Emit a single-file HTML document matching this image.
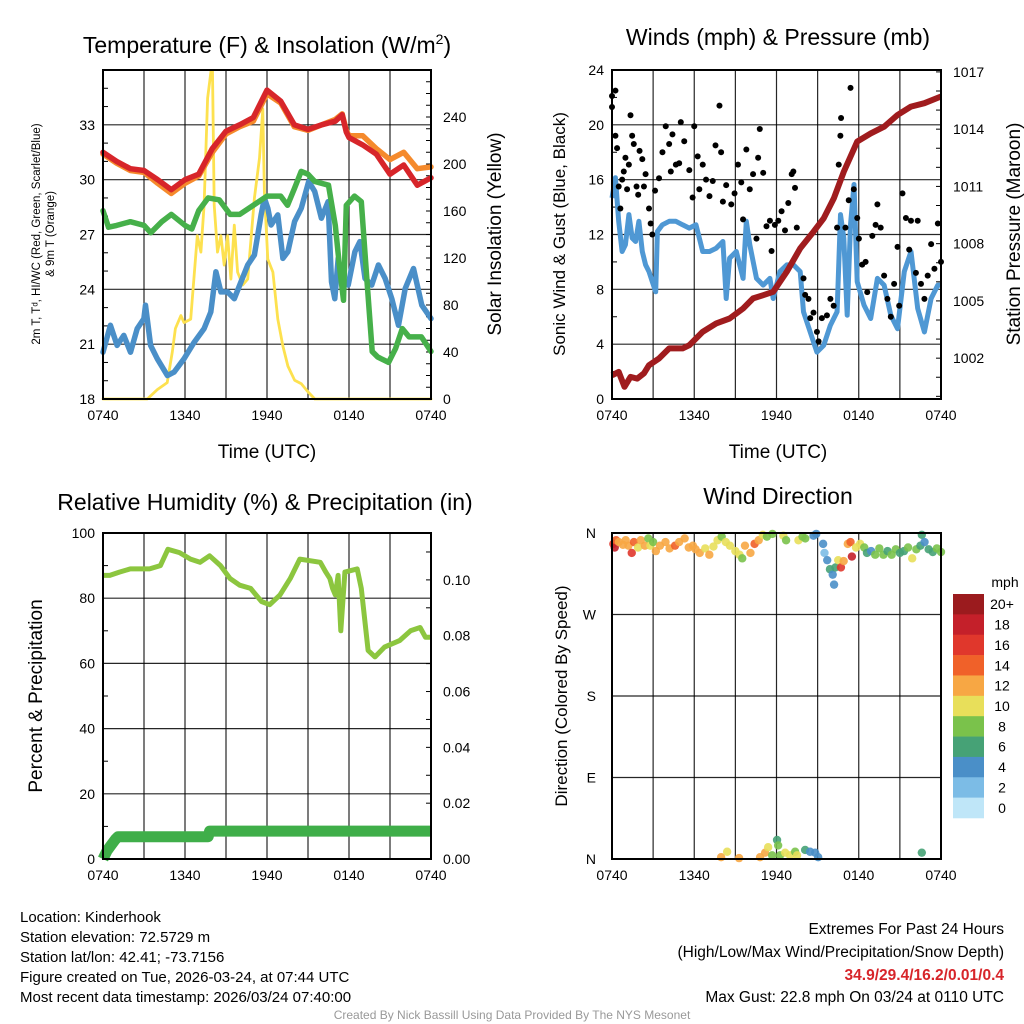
<!DOCTYPE html>
<html><head><meta charset="utf-8">
<style>
html,body{margin:0;padding:0;background:#fff;}
svg{display:block;font-family:"Liberation Sans",Arial,sans-serif;}
</style></head>
<body>
<svg id="fig" width="1024" height="1024" viewBox="0 0 1024 1024" xmlns="http://www.w3.org/2000/svg">
<rect width="1024" height="1024" fill="#fff"/>
</svg>
<script>
// ---- Panel 1 data (hours since 0740 UTC) ----
const tempTimes = [0,1,2,3,4,5,6,7,8,9,10,11,12,13,14,15,16,17,17.5,17.8,18,19,20,21,22,23,24];
const tempRed = [31.5,31.0,30.6,30.5,30.0,29.45,30.0,30.3,31.7,32.65,33.0,33.4,34.9,34.3,33.0,32.75,33.0,33.2,33.55,32.6,32.3,31.9,31.4,30.3,30.8,29.7,30.1];
const tempOrange = [31.4,30.9,30.5,30.4,29.8,29.25,29.8,30.2,31.5,32.5,32.9,33.2,34.7,34.2,32.9,32.7,33.0,33.3,33.6,32.7,32.4,32.4,31.7,31.1,31.5,30.6,30.7];
const hiTimes = [0,0.4,1,2,3,3.5,4.3,5,6,6.5,7,7.7,8.5,9.3,10,11,12,13,13.5,14,14.5,15,15.5,16.5,17,17.3,17.6,17.8,18.4,18.9,19.3,19.7,20.1,20.9,21.4,21.9,22.4,23.3,24];
const hiValues = [28.3,27.4,27.5,27.7,27.5,27.1,27.7,28.1,27.5,27.3,28.3,29.0,28.9,28.1,28.1,28.6,29.1,29.1,28.6,29.5,30.45,30.3,29.9,29.7,27.5,25.3,23.4,28.6,29.1,28.8,24.6,20.6,20.3,20.0,20.75,21.85,21.4,21.4,20.6];
const dewTimes = [0,0.54,1.03,1.52,2.01,2.5,2.99,3.11,3.48,3.97,4.71,5.2,5.93,6.67,7.4,7.89,8.26,8.63,9.12,9.61,10.1,10.59,11.08,11.57,11.81,12.06,12.3,12.79,13.16,13.53,14.02,14.51,15.05,15.49,15.98,16.47,16.72,16.96,17.21,17.45,17.94,18.43,18.8,19.17,19.66,20.15,20.64,21.13,21.62,22.11,22.72,23.33,24];
const dewValues = [20.56,22.03,20.93,21.48,20.56,21.85,22.4,23.13,20.93,20.2,19.28,19.47,20.2,21.11,21.85,22.76,24.96,23.86,23.86,23.49,24.41,25.33,25.88,28.07,28.99,28.44,27.52,28.07,25.69,26.06,27.71,28.44,29.9,29.36,27.89,28.8,24.41,23.49,25.69,24.6,24.23,26.06,26.61,24.6,24.23,25.33,24.6,23.49,22.03,24.04,25.14,23.13,22.4];
const solarTimes = [0,3.24,3.97,4.7,5.07,5.3,5.7,5.93,6.42,6.9,7.16,7.4,7.65,7.9,8.01,8.14,8.38,8.63,8.87,9.12,9.36,9.61,9.85,10.22,10.59,11.08,11.45,11.69,11.81,12.06,12.43,12.79,13.16,13.53,14.02,14.51,15.0,15.5,24];
const solarValues = [0,0,8,14,40,60,71,65,68,139,125,165,256,279,279,165,125,139,114,139,102,148,108,97,102,171,205,247,176,119,108,68,45,28,16,13,6,0,0];
const tempTicks = [18,21,24,27,30,33];
const solarTicks = [0,40,80,120,160,200,240];
const timeLabels = ["0740","1340","1940","0140","0740"];
// ---- Panel 2 data ----
const pressTimes = [0,0.49,0.91,1.35,1.84,2.33,2.7,3.43,4.17,5.15,5.64,6.62,7.6,8.58,9.56,10.29,11.03,11.76,12.75,13.73,14.71,15.44,16.18,16.91,17.89,18.87,19.85,20.83,21.81,22.79,24];
const pressValues = [1001.1,1001.28,1000.5,1001.02,1000.93,1001.2,1001.63,1001.98,1002.51,1002.51,1002.68,1003.38,1003.82,1004.08,1004.6,1005.13,1005.3,1005.48,1006.53,1007.75,1008.63,1009.33,1010.37,1011.77,1013.35,1013.78,1014.13,1014.74,1015.18,1015.36,1015.71];
const windTimes = [0,0.25,0.49,0.74,0.98,1.23,1.47,1.72,1.96,2.21,2.45,2.7,2.94,3.19,3.31,3.68,4.17,4.66,5.15,5.64,6.13,6.62,7.11,7.6,8.09,8.33,8.58,9.07,9.56,9.8,10.05,10.54,11.03,11.52,11.76,12.25,12.75,13.24,13.73,13.97,14.46,14.95,15.44,15.93,16.42,16.67,16.91,17.16,17.4,17.65,17.89,18.38,18.87,19.36,19.85,20.34,20.83,21.32,21.81,22.3,22.79,23.28,23.77,24];
const windValues = [14.67,16.14,12.96,10.76,11.25,13.45,11.74,11.49,12.96,10.76,9.78,9.29,8.56,7.82,12.22,12.71,12.96,12.96,12.71,12.47,12.71,10.76,10.76,11.0,11.49,7.33,10.27,10.76,8.8,12.96,11.25,8.8,8.31,8.8,7.33,9.29,9.78,9.78,9.29,6.36,4.89,3.42,3.91,5.38,6.36,13.45,11.74,6.11,12.71,15.65,8.56,6.85,5.87,8.8,8.31,6.11,5.13,9.29,10.76,6.6,4.89,7.33,8.31,8.31];
const gustTimes = [0,0,0.25,0.25,0.37,0.49,0.61,0.74,0.86,0.98,1.1,1.23,1.35,1.47,1.59,1.79,1.91,2.01,2.21,2.33,2.45,2.7,2.82,2.94,3.14,3.43,3.68,3.92,4.17,4.29,4.41,4.66,4.9,5.02,5.27,5.64,5.88,6.0,6.25,6.37,6.62,6.86,7.11,7.35,7.55,7.84,7.96,8.09,8.33,8.7,8.94,9.19,9.43,9.56,9.8,10.05,10.29,10.54,10.66,10.78,11.03,11.27,11.52,11.64,11.88,12.13,12.37,12.62,12.86,13.11,13.23,13.35,13.48,13.97,14.09,14.33,14.46,14.7,14.95,15.07,15.31,15.68,15.93,16.17,16.42,16.54,16.66,16.71,17.03,17.27,17.4,17.64,17.89,18.01,18.25,18.5,18.62,18.99,19.23,19.36,19.6,19.85,20.09,20.34,20.58,20.83,20.95,21.19,21.44,21.68,21.81,22.17,22.3,22.54,22.79,23.03,23.28,23.52,23.77,24.0];
const gustValues = [21.3,22.1,22.5,19.2,18.3,15.5,13.9,16.0,16.6,17.6,15.3,17.1,20.7,19.2,18.6,15.5,14.9,18.1,17.5,15.5,16.4,13.9,12.8,12.0,15.2,16.1,18.0,19.9,18.6,16.6,19.3,17.1,17.2,20.2,18.8,16.7,14.7,19.9,17.7,15.3,17.1,16.0,14.8,15.9,18.5,21.4,18.0,14.4,15.6,14.2,15.0,17.1,15.8,13.1,18.2,15.3,16.4,11.7,17.6,19.7,16.5,12.6,13.0,10.8,12.7,13.0,13.7,12.3,14.3,16.4,16.6,15.4,12.5,8.8,7.6,7.3,5.9,6.3,4.9,4.2,5.9,6.1,7.3,6.8,12.5,17.1,19.2,20.5,12.5,14.5,22.7,15.3,13.2,11.7,9.8,10.0,7.8,11.9,12.7,14.2,12.5,9.0,7.3,6.0,8.4,11.1,6.8,15.0,13.2,10.9,13.0,9.2,13.0,8.4,7.3,9.0,11.3,9.5,12.8,10.0];
const windTicks = [0,4,8,12,16,20,24];
const pressTicks = [1002,1005,1008,1011,1014,1017];
// ---- Panel 3 data ----
const rhTimes = [0,0.5,1.2,2,2.7,3.4,4.2,4.75,5.6,6.4,7.1,7.8,8.6,9.3,10,10.8,11.6,12.2,12.95,13.7,14.4,15.9,16.3,16.6,16.8,17,17.2,17.4,17.7,18.6,18.9,19.4,19.9,20.6,21.7,22.5,23.2,23.6,24];
const rhValues = [87,87,88,89,89,89,90,95,94,92,91,93,90,86,84,83,79,78,81,86,92,91,88,86,83,81,87,70,88,89,83,64,62,65,67,70,71,68,68];
const precipTimes = [0,0.3,0.6,0.9,1.1,7.7,7.8,24];
const precipValues = [0,0.003,0.005,0.007,0.008,0.008,0.010,0.010];
const rhTicks = [0,20,40,60,80,100];
const precipTicks = [0,0.02,0.04,0.06,0.08,0.10];
// ---- Panel 4 data ----
const dirTimes = [0.1,0.2,0.3,0.5,0.8,1.0,1.2,1.44,1.6,1.9,2.1,2.4,2.65,2.8,3.0,3.2,3.5,3.9,4.2,4.6,4.9,5.3,5.6,5.9,6.1,6.4,6.8,7.1,7.4,7.7,8.0,8.3,8.6,9.0,9.3,9.5,9.7,10.1,10.4,10.7,11.0,11.3,11.7,12.5,12.7,13.6,13.9,14.1,14.7,14.9,15.4,15.5,15.7,15.9,16.1,16.2,16.3,16.5,16.7,16.9,17.2,17.5,17.4,17.8,18.1,18.4,18.6,18.9,19.2,19.5,19.8,20.1,20.4,20.7,21.0,21.3,21.6,21.9,22.2,22.5,22.6,22.8,23.1,23.4,23.7,24.0,7.96,8.4,9.27,10.8,11.17,11.39,11.68,12.04,12.12,12.26,12.63,12.99,13.36,13.5,14.09,14.45,14.82,15.04,22.6];
const dirValues = [348,344,352,350,347,352,346,338,350,344,352,346,354,346,350,340,346,350,343,346,350,354,344,346,342,338,343,336,345,352,356,350,346,340,336,332,346,338,348,352,358,356,359,357,352,352,356,354,357,359,348,338,330,320,314,303,322,330,322,329,348,334,350,344,348,344,338,340,336,343,336,340,336,342,338,340,344,332,342,346,358,350,342,339,343,339,2,8,1,2,7,13,4,21,15,4,7,4,8,4,10,8,7,2,7];
const dirSpeeds = [16,17,14,12,12,11,12,15,13,10,12,12,8,10,7,12,12,11,12,14,12,12,12,12,12,11,10,12,10,10,8,9,10,10,10,8,12,12,13,12,10,8,8,10,8,10,7,8,4,4,4,2,4,5,4,4,6,10,16,12,12,17,13,10,9,8,6,4,7,8,7,6,7,8,6,5,7,10,8,6,6,4,6,6,8,7,12,10,12,12,12,10,8,6,8,8,10,10,8,10,6,4,4,4,6];
const dirTickLabels = ["N","W","S","E","N"];
const speedBins = ["0","2","4","6","8","10","12","14","16","18","20+"];
const speedColors = ["#bfe6f8","#7cbce6","#4a8fc8","#46a276","#7ac24b","#e8df5a","#f7a744","#f06129","#e0372c","#c4202a","#9b1b1e"];

const NS = "http://www.w3.org/2000/svg";
const svg = document.getElementById("fig");
function el(tag, attrs, parent, text) {
  const e = document.createElementNS(NS, tag);
  for (const k in attrs) e.setAttribute(k, attrs[k]);
  if (text !== undefined) e.textContent = text;
  (parent || svg).appendChild(e);
  return e;
}
function lin(d0, d1, r0, r1) { return v => r0 + (v - d0) / (d1 - d0) * (r1 - r0); }
function pathD(xs, ys, sx, sy) { return xs.map((t, i) => (i ? "L" : "M") + sx(t).toFixed(1) + "," + sy(ys[i]).toFixed(1)).join(""); }

function panelFrame(name, x0, y0, x1, y1, sx) {
  const g = el("g", {});
  
  
  for (let h = 0; h <= 24; h += 3) {
    const gl = el("line", {x1: sx(h), x2: sx(h), y1: y0, y2: y1, stroke: "#000", "stroke-width": 1.2, "stroke-opacity": 0.85}, g);
    
    
  }
  timeLabels.forEach((lab, i) => {
    const t = el("text", {x: sx(i * 6), y: y1 + 21, "font-size": 14, "text-anchor": "middle"}, g, lab);
    
    
  });
  return g;
}
function hgrid(g, vals, sy, x0, x1) {
  vals.forEach(v => {
    const gl = el("line", {x1: x0, x2: x1, y1: sy(v), y2: sy(v), stroke: "#000", "stroke-width": 1.2, "stroke-opacity": 0.85}, g);
    
    
  });
}
function border(g, x0, y0, x1, y1) {
  const r = el("rect", {x: x0, y: y0, width: x1 - x0, height: y1 - y0, fill: "none", stroke: "#000", "stroke-width": 2}, g);
  
  
}
function yLabels(g, vals, sy, x, anchor, fmt) {
  vals.forEach(v => {
    const t = el("text", {x: x, y: sy(v) + 5, "font-size": 14, "text-anchor": anchor}, g, fmt ? fmt(v) : String(v));
    
    
  });
}
function ticksOut(g, vals, sy, x, dir, len) {
  vals.forEach(v => {
    const l = el("line", {x1: x, x2: x + dir * len, y1: sy(v), y2: sy(v), stroke: "#000", "stroke-width": 1}, g);
    
    
  });
}
function title(txt, x, y, size, name, rot) {
  const t = el("text", {x: x, y: y, "font-size": size, "text-anchor": "middle"}, svg);
  if (rot) t.setAttribute("transform", "rotate(-90 " + x + " " + y + ")");
  t.innerHTML = txt;
  
  
  return t;
}

// ===== Panel 1 =====
(function(){
  const X0 = 103, X1 = 431, Y0 = 70, Y1 = 399;
  const sx = lin(0, 24, X0, X1), sy = lin(18, 36, Y1, Y0), sy2 = lin(0, 280, Y1, Y0);
  const g = panelFrame("temperature-panel", X0, Y0, X1, Y1, sx);
  hgrid(g, tempTicks, sy, X0, X1);
  const minorL = []; for (let v = 19; v < 36; v++) if ((v - 18) % 3) minorL.push(v);
  ticksOut(g, minorL, sy, X0, 1, 5);
  const minorR = []; for (let v = 0; v <= 280; v += 10) minorR.push(v);
  ticksOut(g, minorR, sy2, X1, -1, 5);
  yLabels(g, tempTicks, sy, X0 - 8, "end");
  yLabels(g, solarTicks, sy2, X1 + 12, "start");
  const series = [
    ["solar-line", solarTimes, solarValues, sy2, "#fde14f", 2.8],
    ["dewpoint-line", dewTimes, dewValues, sy, "#4a8fc8", 5.5],
    ["heat-index-line", hiTimes, hiValues, sy, "#46b04a", 5.5],
    ["temp-9m-line", tempTimes, tempOrange, sy, "#f58a2c", 5.5],
    ["temp-2m-line", tempTimes, tempRed, sy, "#d7252a", 5.5]
  ];
  series.forEach(s => {
    const p = el("path", {d: pathD(s[1], s[2], sx, s[3]), fill: "none", stroke: s[4], "stroke-width": s[5], "stroke-linejoin": "round", "stroke-linecap": "round"}, g);
    
    
  });
  border(g, X0, Y0, X1, Y1);
})();
title('Temperature (F) &amp; Insolation (W/m<tspan dy="-9" font-size="14">2</tspan><tspan dy="9">)</tspan>', 267, 53, 23, "temperature-title");
title("Time (UTC)", 267, 458, 19, "x-axis-title-temp");
const yt = el("text", {x: 0, y: 0, "font-size": 11.5, "text-anchor": "middle", transform: "translate(40 234) rotate(-90)"});


el("tspan", {x: 0, y: 0}, yt, "2m T, T\u1d48, HI/WC (Red, Green, Scarlet/Blue)");
el("tspan", {x: 0, y: 14}, yt, "& 9m T (Orange)");
title("Solar Insolation (Yellow)", 501, 234, 19, "y-axis-title-solar", true);

// ===== Panel 2 =====
(function(){
  const X0 = 612, X1 = 941, Y0 = 70, Y1 = 399;
  const sx = lin(0, 24, X0, X1), sy = lin(0, 24, Y1, Y0), sy2 = lin(999.86, 1017.1, Y1, Y0);
  const g = panelFrame("wind-panel", X0, Y0, X1, Y1, sx);
  hgrid(g, windTicks, sy, X0, X1);
  const minorL = []; for (let v = 2; v < 24; v += 4) minorL.push(v);
  ticksOut(g, minorL, sy, X0, 1, 5);
  const minorR = []; for (let v = 1000; v <= 1017; v++) minorR.push(v);
  ticksOut(g, minorR, sy2, X1, -1, 5);
  yLabels(g, windTicks, sy, X0 - 8, "end");
  yLabels(g, pressTicks, sy2, X1 + 12, "start");
  const w = el("path", {d: pathD(windTimes, windValues, sx, sy), fill: "none", stroke: "#4f98d4", "stroke-width": 5, "stroke-linejoin": "round"}, g);
  
  
  gustTimes.forEach((t, i) => {
    const c = el("circle", {cx: sx(t), cy: sy(gustValues[i]), r: 3, fill: "#000"}, g);
    
    
  });
  const p = el("path", {d: pathD(pressTimes, pressValues, sx, sy2), fill: "none", stroke: "#a01c1e", "stroke-width": 6, "stroke-linejoin": "round"}, g);
  
  
  border(g, X0, Y0, X1, Y1);
})();
title("Winds (mph) &amp; Pressure (mb)", 778, 45, 23, "wind-title");
title("Time (UTC)", 778, 458, 19, "x-axis-title-wind");
title("Sonic Wind &amp; Gust (Blue, Black)", 565, 234, 17, "y-axis-title-wind", true);
title("Station Pressure (Maroon)", 1020, 234, 19, "y-axis-title-pressure", true);

// ===== Panel 3 =====
(function(){
  const X0 = 103, X1 = 431, Y0 = 533, Y1 = 859;
  const sx = lin(0, 24, X0, X1), sy = lin(0, 100, Y1, Y0), sy2 = lin(0, 0.1168, Y1, Y0);
  const g = panelFrame("humidity-panel", X0, Y0, X1, Y1, sx);
  hgrid(g, rhTicks, sy, X0, X1);
  const minorL = []; for (let v = 10; v < 100; v += 20) minorL.push(v);
  ticksOut(g, minorL, sy, X0, 1, 5);
  const minorR = []; for (let v = 0; v <= 0.116; v += 0.01) minorR.push(v);
  ticksOut(g, minorR, sy2, X1, -1, 5);
  yLabels(g, rhTicks, sy, X0 - 8, "end");
  yLabels(g, precipTicks, sy2, X1 + 12, "start", v => v.toFixed(2));
  const r = el("path", {d: pathD(rhTimes, rhValues, sx, sy), fill: "none", stroke: "#8cc63f", "stroke-width": 5, "stroke-linejoin": "round"}, g);
  
  
  const pr = el("path", {d: pathD(precipTimes, precipValues, sx, sy2), fill: "none", stroke: "#3fae49", "stroke-width": 11, "stroke-linejoin": "round"}, g);
  
  
  border(g, X0, Y0, X1, Y1);
})();
title("Relative Humidity (%) &amp; Precipitation (in)", 265, 510, 23, "humidity-title");
title("Percent &amp; Precipitation", 42, 696, 19, "y-axis-title-humidity", true);

// ===== Panel 4 =====
(function(){
  const X0 = 612, X1 = 941, Y0 = 533, Y1 = 859;
  const sx = lin(0, 24, X0, X1), sy = lin(0, 360, Y1, Y0);
  const g = panelFrame("wind-direction-panel", X0, Y0, X1, Y1, sx);
  const dirTicks = [360, 270, 180, 90, 0];
  hgrid(g, dirTicks, sy, X0, X1);
  dirTickLabels.forEach((lab, i) => {
    const t = el("text", {x: X0 - 16, y: sy(dirTicks[i]) + 5, "font-size": 14, "text-anchor": "end"}, g, lab);
    
    
  });
  dirTimes.forEach((t, i) => {
    const bin = Math.min(10, Math.max(0, Math.round(dirSpeeds[i] / 2)));
    const c = el("circle", {cx: sx(t), cy: sy(dirValues[i]), r: 4.2, fill: speedColors[bin], "fill-opacity": 0.9}, g);
    
    
  });
  border(g, X0, Y0, X1, Y1);
  const cb = el("g", {});
  
  
  const cbTop = 594, cbH = 224 / speedBins.length;
  for (let i = 0; i < speedBins.length; i++) {
    const k = speedBins.length - 1 - i;
    const r = el("rect", {x: 953, y: cbTop + i * cbH, width: 31, height: cbH + 0.3, fill: speedColors[k]}, cb);
    
    
    const t = el("text", {x: 1002, y: cbTop + i * cbH + cbH / 2 + 5, "font-size": 14, "text-anchor": "middle"}, cb, speedBins[k]);
    
    
  }
  const u = el("text", {x: 1005, y: 587, "font-size": 14, "text-anchor": "middle"}, cb, "mph");
  
  
})();
title("Wind Direction", 778, 504, 23, "wind-direction-title");
title("Direction (Colored By Speed)", 567, 696, 17, "y-axis-title-direction", true);

// ===== Footer text =====
const leftLines = ["Location: Kinderhook","Station elevation: 72.5729 m","Station lat/lon: 42.41; -73.7156","Figure created on Tue, 2026-03-24, at 07:44 UTC","Most recent data timestamp: 2026/03/24 07:40:00"];
leftLines.forEach((s, i) => {
  const t = el("text", {x: 20, y: 922 + i * 20, "font-size": 15}, svg, s);
  
  
});
const rightLines = [["Extremes For Past 24 Hours",934,"#000","normal"],["(High/Low/Max Wind/Precipitation/Snow Depth)",957,"#000","normal"],["34.9/29.4/16.2/0.01/0.4",980,"#d7252a","bold"],["Max Gust: 22.8 mph On 03/24 at 0110 UTC",1002,"#000","normal"]];
rightLines.forEach(l => {
  const t = el("text", {x: 1004, y: l[1], "font-size": 15.5, "text-anchor": "end", fill: l[2], "font-weight": l[3]}, svg, l[0]);
  
  
});
const cr = el("text", {x: 512, y: 1019, "font-size": 12, "text-anchor": "middle", fill: "#999"}, svg, "Created By Nick Bassill Using Data Provided By The NYS Mesonet");


</script>
</body></html>
